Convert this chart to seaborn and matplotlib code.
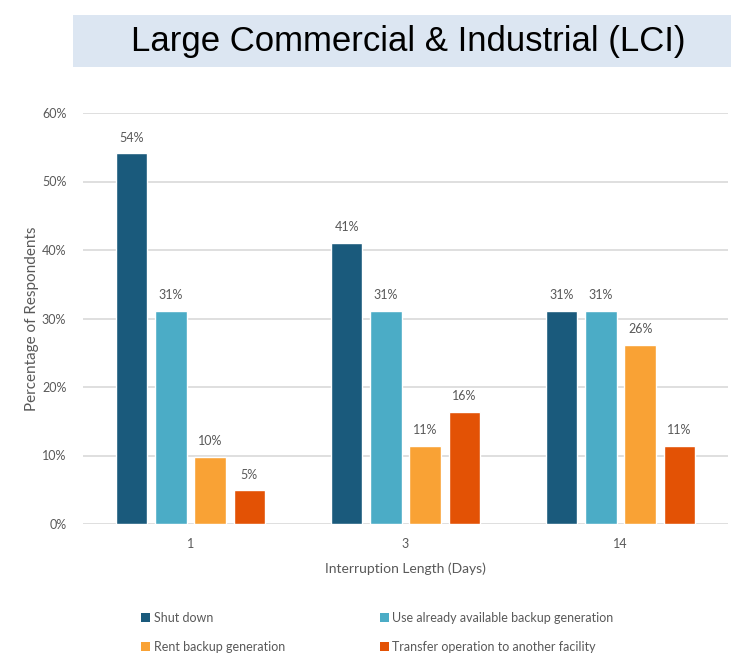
import matplotlib
matplotlib.use("Agg")
import matplotlib.pyplot as plt
from matplotlib.patches import Rectangle, Patch
from matplotlib.ticker import PercentFormatter
import seaborn as sns
import pandas as pd

# Survey responses by outage duration
durations = ["1", "3", "14"]
responses = [
    "Shut down",
    "Use already available backup generation",
    "Rent backup generation",
    "Transfer operation to another facility",
]
shut_down = [54.1, 41.0, 31.1]
existing_backup = [31.1, 31.1, 31.1]
rent_backup = [9.8, 11.4, 26.2]
transfer_operation = [4.9, 16.4, 11.4]

colors = ["#1a5a7c", "#4bacc6", "#f9a235", "#e35205"]
text_gray = "#595959"

series = [shut_down, existing_backup, rent_backup, transfer_operation]
df = pd.DataFrame(
    [(d, r, v) for r, vals in zip(responses, series) for d, v in zip(durations, vals)],
    columns=["Days", "Response", "Percent"],
)

sns.set_theme(style="white")
plt.rcParams["font.family"] = ["Lato", "DejaVu Sans"]

fig = plt.figure(figsize=(7.31, 6.54), dpi=100)
ax = fig.add_axes([83 / 731, 1 - 524 / 654, 645 / 731, 411 / 654])

sns.barplot(
    data=df, x="Days", y="Percent", hue="Response", order=durations,
    hue_order=responses, palette=colors, width=0.73, gap=0.2,
    ax=ax, legend=False, zorder=3, saturation=1,
)

for cont in ax.containers:
    ax.bar_label(cont, labels=[f"{v:.0f}%" for v in cont.datavalues],
                 padding=7, fontsize=9, color=text_gray)

ax.set_ylim(0, 60)
ax.set_xlim(-0.5, 2.5)
ax.set_yticks(range(0, 61, 10))
ax.yaxis.set_major_formatter(PercentFormatter(decimals=0))
ax.grid(axis="y", color="#d9d9d9", linewidth=1.2, zorder=0)
for s in ax.spines.values():
    s.set_visible(False)
ax.tick_params(axis="both", length=0, labelsize=9, colors=text_gray)
ax.tick_params(axis="y", pad=12)
ax.tick_params(axis="x", pad=10)
ax.set_xlabel("Interruption Length (Days)", fontsize=10, color=text_gray, labelpad=9)
ax.set_ylabel("Percentage of Respondents", fontsize=11, color=text_gray, labelpad=2)

# Title banner
fig.patches.append(Rectangle((73 / 731, 1 - 67 / 654), 1 - 73 / 731, 52 / 654,
                             transform=fig.transFigure, facecolor="#dce6f2",
                             edgecolor="none", zorder=0))
fig.text(408 / 731, 1 - 41 / 654, "Large Commercial & Industrial (LCI)",
         ha="center", va="center", fontsize=25, color="black",
         family=["Liberation Sans", "DejaVu Sans"])

handles = [Patch(facecolor=c, edgecolor="none") for c in colors]
order = [0, 2, 1, 3]
fig.legend([handles[i] for i in order], [responses[i] for i in order],
           ncol=2, loc="upper left", bbox_to_anchor=(136 / 731, 1 - 607 / 654),
           frameon=False, fontsize=9, labelcolor=text_gray,
           handlelength=0.7, handleheight=0.7, handletextpad=0.3,
           columnspacing=7.6, labelspacing=1.35, borderaxespad=0)

fig.savefig("out.png", dpi=100)
